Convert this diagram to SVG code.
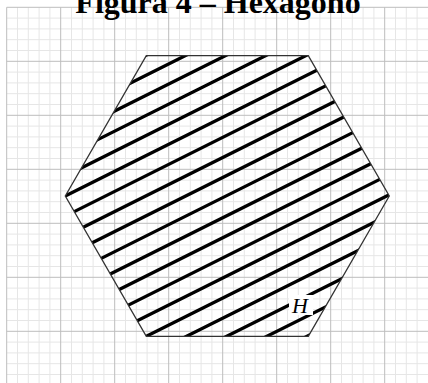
<svg xmlns="http://www.w3.org/2000/svg" width="428" height="383" viewBox="0 0 428 383">
<style>
.minor{stroke:#e6e6e6;stroke-width:1;fill:none}
.major{stroke:#bdbdbd;stroke-width:1;fill:none}
.hatch{stroke:#000;stroke-width:3.3;fill:none}
.hex{stroke:#333;stroke-width:1.3;fill:none}
.title{font-family:"Liberation Serif","Times New Roman",serif;font-weight:bold;font-size:32px;fill:#000}
.lbl{font-family:"Liberation Serif","Times New Roman",serif;font-style:italic;font-size:22px;fill:#000}
</style>
<defs>
<clipPath id="hexclip"><polygon points="389.3,196 308.3,336.3 146.3,336.3 65.3,196 146.3,55.7 308.3,55.7"/></clipPath>
</defs>
<rect width="428" height="383" fill="#fff"/>
<g id="grid">
<path class="minor" d="M17.5,7.3V383M28.3,7.3V383M39.1,7.3V383M49.9,7.3V383M71.5,7.3V383M82.3,7.3V383M93.1,7.3V383M103.9,7.3V383M125.5,7.3V383M136.3,7.3V383M147.1,7.3V383M157.9,7.3V383M179.5,7.3V383M190.3,7.3V383M201.1,7.3V383M211.9,7.3V383M233.5,7.3V383M244.3,7.3V383M255.1,7.3V383M265.9,7.3V383M287.5,7.3V383M298.3,7.3V383M309.1,7.3V383M319.9,7.3V383M341.5,7.3V383M352.3,7.3V383M363.1,7.3V383M373.9,7.3V383M395.5,7.3V383M406.3,7.3V383M417.1,7.3V383M6.7,18.1H428M6.7,28.9H428M6.7,39.7H428M6.7,50.5H428M6.7,72.1H428M6.7,82.9H428M6.7,93.7H428M6.7,104.5H428M6.7,126.1H428M6.7,136.9H428M6.7,147.7H428M6.7,158.5H428M6.7,180.1H428M6.7,190.9H428M6.7,201.7H428M6.7,212.5H428M6.7,234.1H428M6.7,244.9H428M6.7,255.7H428M6.7,266.5H428M6.7,288.1H428M6.7,298.9H428M6.7,309.7H428M6.7,320.5H428M6.7,342.1H428M6.7,352.9H428M6.7,363.7H428M6.7,374.5H428"/>
<path class="major" d="M6.7,7.3V383M60.7,7.3V383M114.7,7.3V383M168.7,7.3V383M222.7,7.3V383M276.7,7.3V383M330.7,7.3V383M384.7,7.3V383M6.7,7.3H428M6.7,61.3H428M6.7,115.3H428M6.7,169.3H428M6.7,223.3H428M6.7,277.3H428M6.7,331.3H428"/>
</g>
<text class="title" x="218" y="13" text-anchor="middle">Figura 4 – Hexágono</text>
<g id="hexagon">
<g clip-path="url(#hexclip)">
<path class="hatch" d="M50,103.2L400,-71.8M50,123.29L400,-51.71M50,143.38L400,-31.62M50,163.47L400,-11.53M50,183.56L400,8.56M50,203.65L400,28.65M50,223.74L400,48.74M50,243.83L400,68.83M50,263.92L400,88.92M50,284.01L400,109.01M50,304.1L400,129.1M50,324.19L400,149.19M50,344.28L400,169.28M50,364.37L400,189.37M50,384.46L400,209.46M50,404.55L400,229.55M50,424.64L400,249.64M50,444.73L400,269.73M50,464.82L400,289.82"/>
</g>
<polygon class="hex" points="389.3,196 308.3,336.3 146.3,336.3 65.3,196 146.3,55.7 308.3,55.7"/>
</g>
<g id="label-H">
<rect x="289" y="295" width="24" height="20" fill="#fff"/>
<text class="lbl" x="300" y="313" text-anchor="middle">H</text>
</g>
</svg>
